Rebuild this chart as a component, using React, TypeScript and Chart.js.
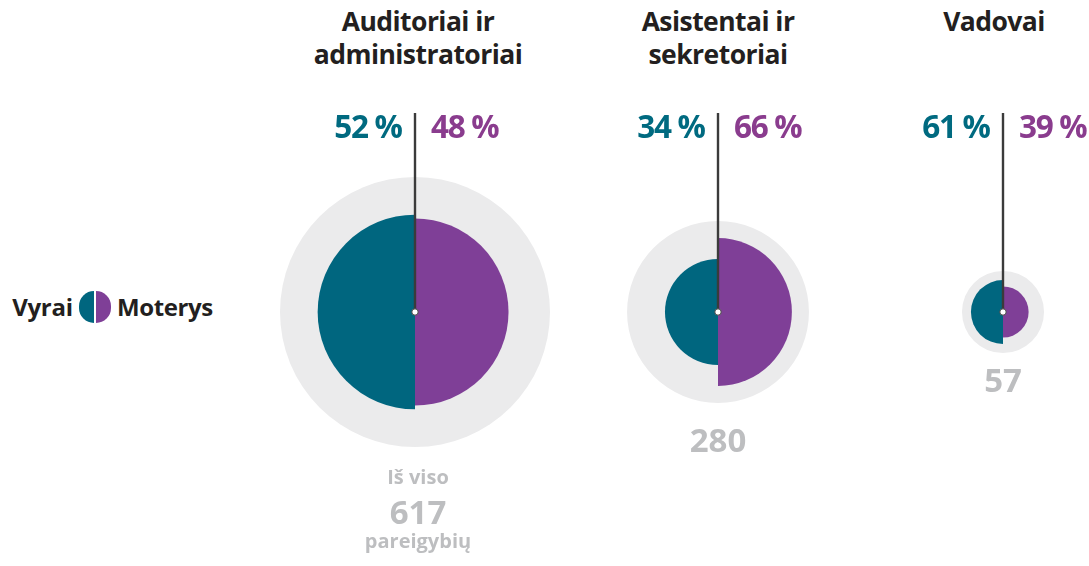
import React, { useEffect, useRef } from "react";
import { Chart, registerables } from "chart.js";

Chart.register(...registerables);

// ---- data ----
const categories = ["Auditoriai ir administratoriai", "Asistentai ir sekretoriai", "Vadovai"];
const titleLines = [["Auditoriai ir", "administratoriai"], ["Asistentai ir", "sekretoriai"], ["Vadovai"]];
const totals = [617, 280, 57];
const menPct = [52, 34, 61];
const womenPct = [48, 66, 39];
const seriesLabels = ["Vyrai", "Moterys"];
const totalPrefix = "Iš viso";
const totalSuffix = "pareigybių";

// ---- styles / layout ----
const FONT = "'Open Sans', 'DejaVu Sans', sans-serif";
const TEAL = "#00667f";
const PURPLE = "#7f3f97";
const TEAL_TEXT = "#006a80";
const PURPLE_TEXT = "#8a3c8e";
const GREY_BG = "#ebebec";
const GREY_TEXT = "#bdbec0";
const TITLE = "#231f20";
const STEM = "#3b3b3b";

const centers = [415, 718, 1003];
const titleCenters = [418, 718, 994];
const CY = 312;
const CANVAS_W = 270;
const CANVAS_H = 424;
const CANVAS_TOP = CY - CANVAS_H / 2;
const STEM_TOP = 113;

const stemPlugin = {
  id: "stem",
  afterDatasetsDraw(chart: any) {
    const r = chart.scales.r;
    const ctx = chart.ctx;
    const x = r.xCenter;
    const y = r.yCenter;
    ctx.save();
    ctx.strokeStyle = STEM;
    ctx.lineWidth = 2.4;
    ctx.beginPath();
    ctx.moveTo(x, STEM_TOP - CANVAS_TOP);
    ctx.lineTo(x, y);
    ctx.stroke();
    ctx.beginPath();
    ctx.arc(x, y, 3.2, 0, Math.PI * 2);
    ctx.fillStyle = "#ffffff";
    ctx.fill();
    ctx.lineWidth = 1;
    ctx.strokeStyle = "#444444";
    ctx.stroke();
    ctx.restore();
  },
};

function PolarGroup({ index }: { index: number }) {
  const ref = useRef<HTMLCanvasElement>(null);
  useEffect(() => {
    if (!ref.current) return;
    const total = totals[index];
    const women = (total * womenPct[index]) / 100;
    const men = (total * menPct[index]) / 100;
    const chart = new Chart(ref.current, {
      type: "polarArea",
      data: {
        labels: [seriesLabels[1], seriesLabels[0]],
        datasets: [
          {
            label: categories[index],
            data: [Math.sqrt(women), Math.sqrt(men)],
            backgroundColor: [PURPLE, TEAL],
            borderWidth: 0,
          },
          {
            label: "total",
            data: [Math.sqrt(total), Math.sqrt(total)],
            backgroundColor: [GREY_BG, GREY_BG],
            borderWidth: 0,
          },
        ],
      },
      options: {
        responsive: false,
        animation: false,
        events: [],
        layout: { padding: 0 },
        plugins: { legend: { display: false }, tooltip: { enabled: false } },
        scales: {
          r: {
            display: false,
            min: 0,
            max: Math.sqrt(Math.max(...totals)),
            ticks: { display: false },
          },
        },
      } as any,
      plugins: [stemPlugin],
    });
    return () => chart.destroy();
  }, [index]);
  return (
    <canvas
      ref={ref}
      width={CANVAS_W}
      height={CANVAS_H}
      style={{ position: "absolute", left: centers[index] - CANVAS_W / 2, top: CANVAS_TOP, width: CANVAS_W, height: CANVAS_H }}
    />
  );
}

// place text by its baseline (Open Sans, line-height 1 => baseline at ~0.888em)
function T({ text, x, baseline, size, color, align = "center", spacing = 0 }: any) {
  const top = baseline - 0.888 * size;
  const style: any = {
    position: "absolute",
    top,
    fontFamily: FONT,
    fontWeight: 700,
    fontSize: size,
    lineHeight: 1,
    color,
    whiteSpace: "nowrap",
    letterSpacing: spacing,
  };
  if (align === "center") {
    style.left = x - 300;
    style.width = 600;
    style.textAlign = "center";
  } else if (align === "right") {
    style.right = 1089 - x - spacing;
    style.textAlign = "right";
  } else {
    style.left = x;
  }
  return <div style={style}>{text}</div>;
}

const totalBaselines = [524, 452, 392];

export default function App() {
  return (
    <div style={{ position: "fixed", left: 0, top: 0, width: 1089, height: 566, overflow: "hidden", background: "#fff" }}>
      {/* legend */}
      <T text={seriesLabels[0]} x={73} baseline={316} size={24} color={TITLE} align="right" spacing={-0.3} />
      <div style={{ position: "absolute", left: 79, top: 291, width: 32, height: 32 }}>
        <div style={{ position: "absolute", left: 0, top: 0, width: 15.3, height: 32, background: TEAL, borderRadius: "16px 0 0 16px" }} />
        <div style={{ position: "absolute", left: 16.7, top: 0, width: 15.3, height: 32, background: PURPLE, borderRadius: "0 16px 16px 0" }} />
      </div>
      <T text={seriesLabels[1]} x={117} baseline={316} size={24} color={TITLE} align="left" spacing={-0.4} />

      {totals.map((t, i) => (
        <React.Fragment key={i}>
          <PolarGroup index={i} />
          {titleLines[i].map((line, j) => (
            <T key={j} text={line} x={titleCenters[i]} baseline={32 + j * 33} size={26.5} color={TITLE} spacing={-0.55} />
          ))}
          <T text={`${menPct[i]} %`} x={centers[i] - 12} baseline={138} size={31.5} color={TEAL_TEXT} align="right" spacing={-1.3} />
          <T text={`${womenPct[i]} %`} x={centers[i] + 16} baseline={138} size={31.5} color={PURPLE_TEXT} align="left" spacing={-1.3} />
          {i === 0 && <T text={totalPrefix} x={418} baseline={485} size={20} color={GREY_TEXT} />}
          <T text={String(t)} x={i === 0 ? 418 : centers[i]} baseline={totalBaselines[i]} size={33} color={GREY_TEXT} />
          {i === 0 && <T text={totalSuffix} x={418} baseline={549} size={20} color={GREY_TEXT} />}
        </React.Fragment>
      ))}
    </div>
  );
}
